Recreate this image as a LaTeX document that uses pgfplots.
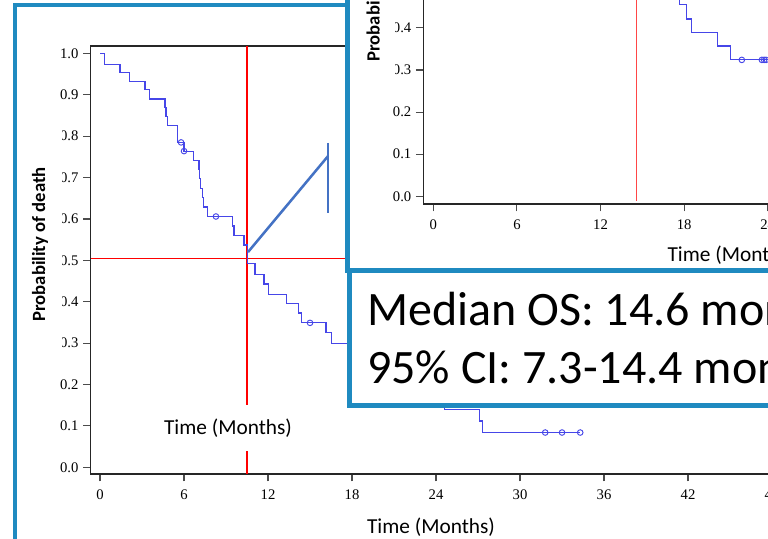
\documentclass[border=0pt]{standalone}
\usepackage{pgfplots}
\pgfplotsset{compat=1.18}
\usepackage{pgfplotstable}
\usepackage{fontspec}
\setmainfont{Liberation Serif}
\newfontfamily\calibri{Carlito}

\definecolor{frameblue}{RGB}{31,138,192}
\definecolor{kmblue}{RGB}{70,70,232}
\definecolor{annblue}{RGB}{68,114,196}
\definecolor{medred}{RGB}{255,0,0}
\definecolor{insetred}{RGB}{255,70,70}

% main Kaplan-Meier curve (time in months, probability)
\pgfplotstableread{
t p
0 1.0
0.31 0.974
1.43 0.953
2.12 0.932
3.21 0.912
3.52 0.890
4.64 0.870
4.71 0.848
4.81 0.826
5.55 0.785
6.00 0.764
6.67 0.742
7.07 0.720
7.12 0.697
7.17 0.674
7.30 0.651
7.38 0.629
7.69 0.606
9.48 0.583
9.57 0.561
10.29 0.537
10.52 0.492
11.07 0.465
11.71 0.443
12.02 0.418
13.33 0.396
14.17 0.373
14.41 0.349
16.14 0.325
16.55 0.300
17.9 0.275
19.2 0.250
20.6 0.225
22.0 0.200
23.3 0.172
24.6 0.140
27.09 0.112
27.33 0.084
34.3 0.084
}\maincurve

% censored points of the main curve
\pgfplotstableread{
t p
5.79 0.785
6.00 0.764
8.28 0.606
15.0 0.349
31.8 0.084
33.0 0.084
34.3 0.084
}\maincens

% inset curve (visible part)
\pgfplotstableread{
t p
17.0 0.490
17.64 0.455
18.19 0.421
18.50 0.390
20.42 0.357
21.35 0.324
30.0 0.324
}\insetcurve

\pgfplotstableread{
t p
22.14 0.324
23.58 0.324
23.74 0.324
23.88 0.324
}\insetcens

\pgfplotsset{
  kmstyle/.style={
    scale only axis,
    tick align=outside,
    major tick length=5.5pt,
    tick style={black!70, line width=0.8pt},
    axis line style={black!85, line width=0.9pt},
    ytick={0,0.1,0.2,0.3,0.4,0.5,0.6,0.7,0.8,0.9,1},
    yticklabel style={/pgf/number format/.cd, fixed, fixed zerofill, precision=1},
    ticklabel style={font=\fontsize{11}{12}\selectfont},
    /pgf/number format/assume math mode=true,
    xticklabel style={yshift=-3pt},
  }
}

\begin{document}
\begin{tikzpicture}[x=0.75pt,y=-0.75pt]
\useasboundingbox (0,0) rectangle (768,539);
\clip (0,0) rectangle (768,539);
\fill[white] (0,0) rectangle (768,539);
\draw[frameblue, line width=3pt, fill=white] (15,5) rectangle (1000,800);

\begin{axis}[kmstyle,
  at={(67.875pt,-355.5pt)}, anchor=south west,
  x=10.5pt, y=310.4pt,
  xmin=-0.68, xmax=50, ymin=-0.0162, ymax=1.0179,
  xtick={0,6,...,48},
  xtick pos=left, ytick pos=left,
]
\draw[medred, line width=0.8pt] (10.5,-0.0162) -- (10.5,1.0179);
\draw[medred, line width=0.8pt] (-0.68,0.505) -- (50,0.505);
\addplot[kmblue, line width=0.9pt, const plot, no marks] table {\maincurve};
\addplot[kmblue, only marks, mark=o, mark size=2.1pt, mark options={line width=0.7pt}] table {\maincens};
\draw[annblue, line width=1.9pt] (10.57,0.520) -- (16.29,0.752);
\draw[annblue, line width=1.9pt] (16.29,0.7836) -- (16.29,0.6144);
\end{axis}

\fill[white] (22,115) rectangle (62,374);
\node[rotate=90, font=\calibri\bfseries\fontsize{14}{16}\selectfont] at (40,244.5) {Probability of death};
\fill[white] (155,405) rectangle (300,451);
\node[font=\calibri\fontsize{16}{19}\selectfont] at (228,428) {Time (Months)};
\node[font=\calibri\fontsize{16}{19}\selectfont] at (431,527) {Time (Months)};

% inset
\draw[frameblue, line width=3.75pt, fill=white] (347.5,-100) rectangle (1000,270);
\begin{axis}[kmstyle,
  at={(317.475pt,-153pt)}, anchor=south west,
  x=10.45pt, y=315.75pt,
  xmin=-0.72, xmax=30, ymin=-0.0183, ymax=1.05,
  xtick={0,6,...,30},
  axis x line*=bottom, axis y line*=left,
]
\draw[insetred, line width=1.1pt] (14.57,1.05) -- (14.57,-0.01);
\addplot[kmblue, line width=0.9pt, const plot, no marks] table {\insetcurve};
\addplot[kmblue, only marks, mark=o, mark size=2.1pt, mark options={line width=0.7pt}] table {\insetcens};
\end{axis}
\fill[white] (355,-200) rectangle (395,100);
\node[rotate=90, font=\calibri\bfseries\fontsize{14}{16}\selectfont] at (374.5,-15.5) {Probability of death};
\node[font=\calibri\fontsize{16}{19}\selectfont] at (731.5,255) {Time (Months)};

% text box
\draw[frameblue, line width=3.75pt, fill=white] (349.5,270.5) rectangle (1000,405.5);
\node[anchor=base west, inner sep=0pt, font=\calibri\fontsize{36}{40}\selectfont] at (367,325) {Median OS: 14.6 months};
\node[anchor=base west, inner sep=0pt, font=\calibri\fontsize{36}{40}\selectfont] at (367,383) {95\% CI: 7.3-14.4 months};
\end{tikzpicture}
\end{document}
